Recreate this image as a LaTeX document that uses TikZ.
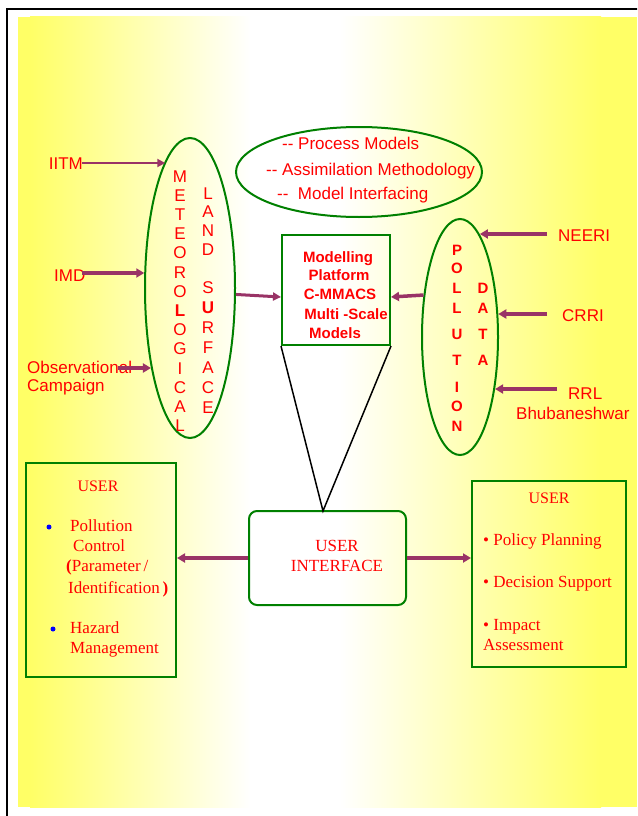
\documentclass[tikz,border=0pt]{standalone}
\usepackage{fontspec}
\setmainfont{Liberation Serif}
\setsansfont{Liberation Sans}
\usetikzlibrary{arrows.meta,shapes.geometric,calc}
\definecolor{yel}{RGB}{255,255,102}
\definecolor{grn}{RGB}{0,128,0}
\definecolor{arr}{RGB}{153,51,102}
\definecolor{txtred}{RGB}{255,0,0}
\definecolor{blu}{RGB}{0,0,255}
\begin{document}
\begin{tikzpicture}[x=1pt,y=-1pt,
  sanstxt/.style={font=\sffamily\fontsize{17}{20}\selectfont, text=txtred, inner sep=0pt},
  mylet/.style={font=\sffamily\fontsize{17}{20}\selectfont, text=txtred, inner sep=0pt, anchor=base},
  plet/.style={font=\sffamily\bfseries\fontsize{15}{18}\selectfont, text=txtred, inner sep=0pt, anchor=base},
  boldtxt/.style={font=\sffamily\bfseries\fontsize{15}{18}\selectfont, text=txtred, inner sep=0pt, anchor=base},
  sertxt/.style={font=\rmfamily\fontsize{17}{20}\selectfont, text=txtred, inner sep=0pt, anchor=base west},
  gline/.style={draw=grn, line width=2pt},
  conn/.style={draw=arr, line width=3.5pt, -{Triangle[length=8pt,width=9pt]}},
  thinconn/.style={draw=arr, line width=2.2pt, -{Triangle[length=8pt,width=8pt]}},
]
\useasboundingbox (0,0) rectangle (637,816);
\clip (0,0) rectangle (637,816);
\fill[white] (0,0) rectangle (637,816);
% background gradient
\fill[yel] (18,17) rectangle (31,807);
\shade[left color=yel, right color=white] (30,17) rectangle (251,807);
\fill[white] (250,17) rectangle (341,807);
\shade[left color=white, right color=yel] (340,17) rectangle (601,807);
\fill[yel] (600,17) rectangle (637,807);
% outer frame
\draw[line width=2.5pt] (7,900) -- (7,9) -- (700,9);

% ellipses and boxes
\node[ellipse, gline, minimum width=90, minimum height=300, inner sep=0pt] (met) at (190,288) {};
\node[ellipse, gline, minimum width=246, minimum height=90, inner sep=0pt] (proc) at (359,172) {};
\node[ellipse, gline, minimum width=76, minimum height=236, inner sep=0pt] (pol) at (460,337) {};
\node[rectangle, gline, minimum width=108, minimum height=110, inner sep=0pt] (model) at (336,290) {};
\node[rectangle, gline, rounded corners=8pt, minimum width=157, minimum height=94, inner sep=0pt] (ui) at (327.5,558) {};
\node[rectangle, gline, minimum width=150, minimum height=214, inner sep=0pt] (userL) at (101,570) {};
\node[rectangle, gline, minimum width=154, minimum height=186, inner sep=0pt] (userR) at (549,574) {};

% meteorological / land surface letters
\foreach \ch [count=\i from 0] in {M,E,T,E,O,R,O,\textbf{L},O,G,I,C,A,L}
  \node[mylet] (metl\i) at (180,{182+19.2*\i}) {\ch};
\foreach \ch [count=\i from 0] in {L,A,N,D}
  \node[mylet] (land\i) at (208,{199+18.7*\i}) {\ch};
\foreach \ch [count=\i from 0] in {S,\textbf{U},R,F,A,C,E}
  \node[mylet] (surf\i) at (208,{293+20*\i}) {\ch};

% pollution data letters
\foreach \ch/\yy [count=\i] in {P/255,O/273,L/293,L/313,U/339,T/365,I/392,O/411,N/431}
  \node[plet] (poll\i) at (457,\yy) {\ch};
\foreach \ch/\yy [count=\i] in {D/293,A/313,T/339,A/365}
  \node[plet] (data\i) at (483,\yy) {\ch};

% process ellipse text
\node[sanstxt, anchor=base west] (p1) at (282,149) {-{}- Process Models};
\node[sanstxt, anchor=base west] (p2) at (266,175) {-{}- Assimilation Methodology};
\node[sanstxt, anchor=base west] (p3) at (277,199) {-{}-\ \ Model Interfacing};

% modelling platform text
\node[boldtxt] (m1) at (338,262) {Modelling};
\node[boldtxt] (m2) at (339,280) {Platform};
\node[boldtxt] (m3) at (340,299) {C-MMACS};
\node[boldtxt] (m4) at (346,319) {Multi -Scale};
\node[boldtxt] (m5) at (335,338) {Models};

% left sources
\node[sanstxt, anchor=base east] (iitm) at (83,169) {IITM};
\node[sanstxt, anchor=base west] (imd) at (54,281) {IMD};
\node[sanstxt, anchor=base west] (obs1) at (27,373) {Observational};
\node[sanstxt, anchor=base west] (obs2) at (27,391) {Campaign};
\coordinate (iitmA) at (82,163);
\coordinate (imdA) at (82,273);
\coordinate (obsA) at (118,368);
\draw[thinconn] (iitmA) -- (iitmA -| met.101.3);
\draw[conn] (imdA) -- (imdA -| met.161.6);
\draw[conn] (obsA) -- (obsA -| met.244.6);

% right sources
\node[sanstxt, anchor=base west] (neeri) at (558,241) {NEERI};
\node[sanstxt, anchor=base west] (crri) at (562,321) {CRRI};
\node[sanstxt, anchor=base west] (rrl) at (568,399) {RRL};
\node[sanstxt, anchor=base west] (bhu) at (516,419) {Bhubaneshwar};
\coordinate (neeriA) at (547,234);
\coordinate (crriA) at (547,314);
\coordinate (rrlA) at (557,389);
\draw[conn] (neeriA) -- (neeriA -| pol.79.8);
\draw[conn] (crriA) -- (crriA -| pol.31.7);
\draw[conn] (rrlA) -- (rrlA -| pol.-56.7);

% into modelling platform
\draw[draw=arr, line width=3pt, -{Triangle[length=8pt,width=8pt]}] (met.-8.8) -- ($(model.west)+(0,7)$);
\draw[conn] (pol.131.7) -- ($(model.east)+(0,7)$);

% triangle to user interface
\coordinate (apex) at (323,511);
\draw[line width=1.5pt] (model.south west) -- (apex) -- (model.south east);

% user interface
\node[sertxt, anchor=base] (ui1) at (337,551) {USER};
\node[sertxt, anchor=base] (ui2) at (337,571) {INTERFACE};
\draw[conn] (ui.west) -- (ui.west -| userL.east);
\draw[conn] (ui.east) -- (ui.east -| userR.west);

% left user box
\node[sertxt, anchor=base, font=\rmfamily\fontsize{16}{19}\selectfont] (uL) at (98,491) {USER};
\fill[blu] (49,527) circle (2.5) coordinate (b1);
\fill[blu] (53,629) circle (2.5) coordinate (b2);
\node[sertxt] (l1) at (70,531) {Pollution};
\node[sertxt] (l2) at (73,551) {Control};
\node[sertxt] (l3) at (66,571) {\textbf{(}Parameter\,/};
\node[sertxt] (l4) at (68,593) {Identification\,\textbf{)}};
\node[sertxt] (l5) at (70,633) {Hazard};
\node[sertxt] (l6) at (70,653) {Management};

% right user box
\node[sertxt, anchor=base, font=\rmfamily\fontsize{16}{19}\selectfont] (uR) at (549,503) {USER};
\node[sertxt] (r1) at (483,545) {\textbullet\ Policy Planning};
\node[sertxt] (r2) at (483,587) {\textbullet\ Decision Support};
\node[sertxt] (r3) at (483,630) {\textbullet\ Impact};
\node[sertxt] (r4) at (483,650) {Assessment};
\end{tikzpicture}
\end{document}
